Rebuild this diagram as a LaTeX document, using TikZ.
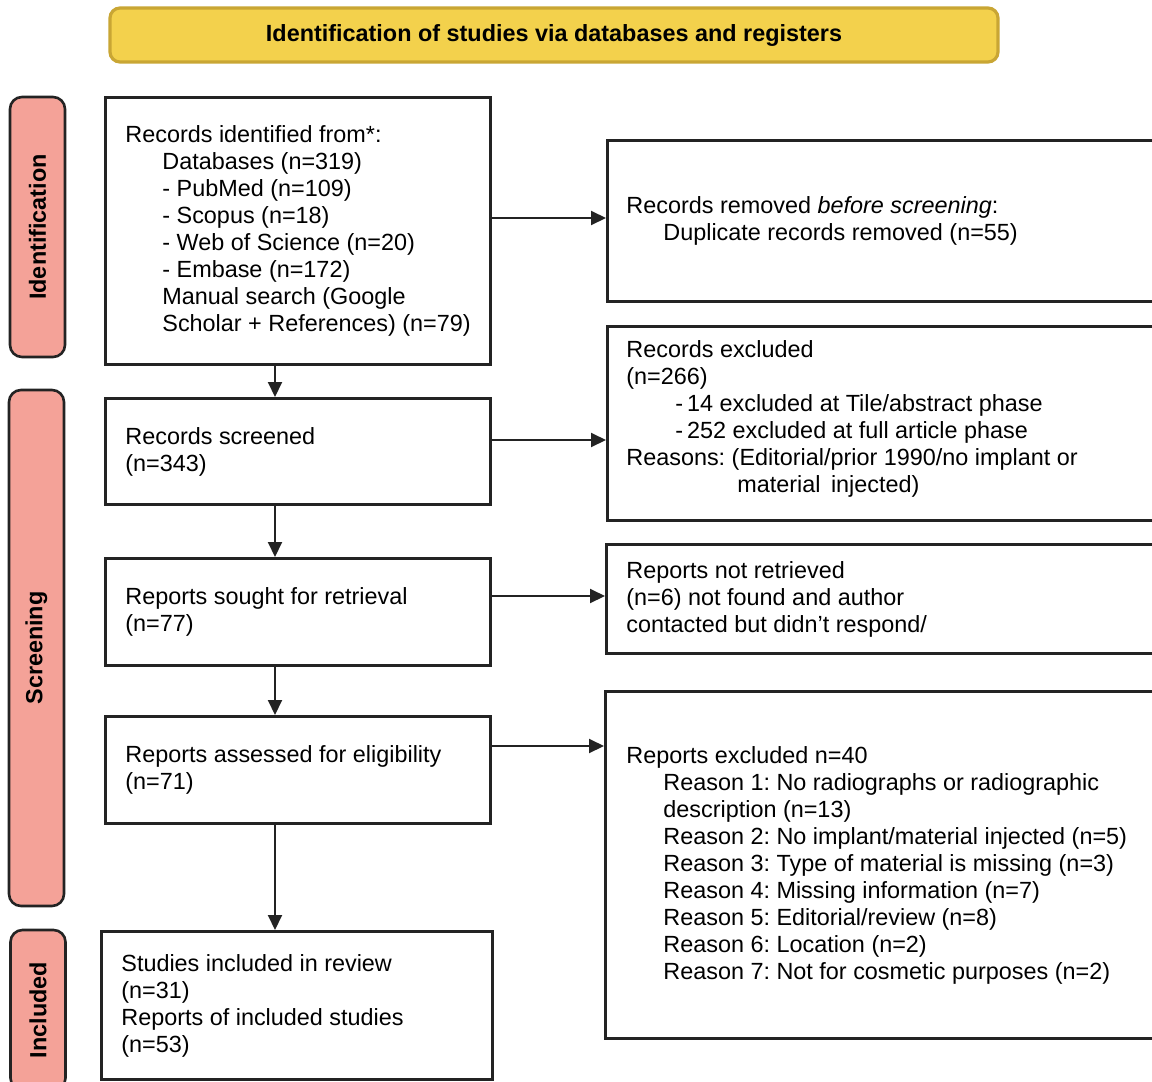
\documentclass[tikz,border=0pt]{standalone}
\usepackage{fontspec}
\setmainfont{Liberation Sans}
\usetikzlibrary{arrows.meta,calc}
\definecolor{hdrfill}{RGB}{243,209,76}
\definecolor{hdrdraw}{RGB}{201,166,52}
\definecolor{sidefill}{RGB}{244,162,152}
\definecolor{linegray}{RGB}{35,35,35}
\frenchspacing
\begin{document}
\begin{tikzpicture}[x=0.5pt,y=-0.5pt,
 box/.style={draw=linegray,line width=1.5pt,fill=white,anchor=north west,inner sep=0pt},
 txt/.style={anchor=west,align=left,inner sep=0pt,font=\fontsize{11.7}{13.5}\selectfont},
 hdr/.style={draw=hdrdraw,fill=hdrfill,line width=1.6pt,rounded corners=5pt,inner sep=0pt,font=\bfseries\fontsize{11.7}{13.5}\selectfont},
 side/.style={draw=linegray,fill=sidefill,line width=1.3pt,rounded corners=6pt,inner sep=0pt,rotate=90,minimum height=27.5pt,font=\bfseries\fontsize{11.7}{13.5}\selectfont},
 arr/.style={draw=linegray,line width=1pt,-{Triangle[length=7.5pt,width=7pt]}},
]
\useasboundingbox (0,0) rectangle (1152,1082);
\clip (0,0) rectangle (1152,1082);
\fill[white] (0,0) rectangle (1152,1082);

% header
\node[hdr,minimum width=444pt,minimum height=27pt] (hdr) at (554,35) {Identification of studies via databases and registers};

% side bars
\node[side,minimum width=130pt] (s1) at (37.5,227) {Identification};
\node[side,minimum width=258pt] (s2) at (36.5,648) {Screening};
\node[side,minimum width=80pt] (s3) at (38,1010) {Included};

% left boxes
\node[box,minimum width=192.5pt,minimum height=133.5pt] (b1) at (104,96) {};
\node[box,minimum width=192.5pt,minimum height=53pt] (b2) at (104,397) {};
\node[box,minimum width=192.5pt,minimum height=53.5pt] (b3) at (104,557) {};
\node[box,minimum width=192.5pt,minimum height=53.5pt] (b4) at (104,715) {};
\node[box,minimum width=195.5pt,minimum height=74pt] (b5) at (100,930) {};

% right boxes
\node[box,minimum width=297pt,minimum height=80.5pt] (r1) at (606,139) {};
\node[box,minimum width=297pt,minimum height=97pt] (r2) at (606,325) {};
\node[box,minimum width=297pt,minimum height=54.5pt] (r3) at (605,543) {};
\node[box,minimum width=297pt,minimum height=173.5pt] (r4) at (604,690) {};

% texts
\node[txt] (b1t) at ([xshift=10.5pt]b1.west) {Records identified from*:\\
\hspace*{18.5pt}Databases (n=319)\\
\hspace*{18.5pt}- PubMed (n=109)\\
\hspace*{18.5pt}- Scopus (n=18)\\
\hspace*{18.5pt}- Web of Science (n=20)\\
\hspace*{18.5pt}- Embase (n=172)\\
\hspace*{18.5pt}Manual search (Google\\
\hspace*{18.5pt}Scholar + References) (n=79)};
\node[txt] (b2t) at ([xshift=10.5pt]b2.west) {Records screened\\(n=343)};
\node[txt] (b3t) at ([xshift=10.5pt]b3.west) {Reports sought for retrieval\\(n=77)};
\node[txt] (b4t) at ([xshift=10.5pt]b4.west) {Reports assessed for eligibility\\(n=71)};
\node[txt] (b5t) at ([xshift=10.5pt]b5.west) {Studies included in review\\(n=31)\\Reports of included studies\\(n=53)};

\node[txt] (r1t) at ([xshift=10pt]r1.west) {Records removed \textit{before screening}:\\
\hspace*{18.5pt}Duplicate records removed (n=55)};
\node[txt] (r2t) at ([xshift=10pt,yshift=2.5pt]r2.west) {Records excluded\\
(n=266)\\
\hspace*{24.5pt}-\,14 excluded at Tile/abstract phase\\
\hspace*{24.5pt}-\,252 excluded at full article phase\\
Reasons: (Editorial/prior 1990/no implant or\\
\hspace*{55.5pt}material\, injected)};
\node[txt] (r3t) at ([xshift=10.5pt]r3.west) {Reports not retrieved\\
(n=6) not found and author\\
contacted but didn’t respond/};
\node[txt] (r4t) at ([xshift=11pt]r4.west) {Reports excluded n=40\\
\hspace*{18.5pt}Reason 1: No radiographs or radiographic\\
\hspace*{18.5pt}description (n=13)\\
\hspace*{18.5pt}Reason 2: No implant/material injected (n=5)\\
\hspace*{18.5pt}Reason 3: Type of material is missing (n=3)\\
\hspace*{18.5pt}Reason 4: Missing information (n=7)\\
\hspace*{18.5pt}Reason 5: Editorial/review (n=8)\\
\hspace*{18.5pt}Reason 6: Location (n=2)\\
\hspace*{18.5pt}Reason 7: Not for cosmetic purposes (n=2)};

% arrows
\coordinate (vx) at (275,0);
\draw[arr] (vx |- b1.south) -- (vx |- b2.north);
\draw[arr] (vx |- b2.south) -- (vx |- b3.north);
\draw[arr] (vx |- b3.south) -- (vx |- b4.north);
\draw[arr] (vx |- b4.south) -- (vx |- b5.north);

\coordinate (h1) at (0,218);
\coordinate (h2) at (0,440);
\coordinate (h3) at (0,596);
\coordinate (h4) at (0,746);
\draw[arr] (b1.east |- h1) -- (r1.west |- h1);
\draw[arr] (b2.east |- h2) -- (r2.west |- h2);
\draw[arr] (b3.east |- h3) -- (r3.west |- h3);
\draw[arr] (b4.east |- h4) -- (r4.west |- h4);
\end{tikzpicture}
\end{document}
